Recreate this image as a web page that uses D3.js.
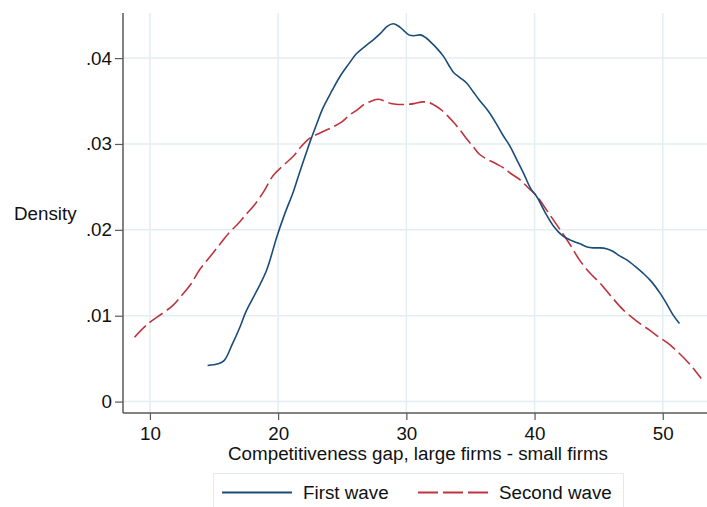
<!DOCTYPE html>
<html>
<head>
<meta charset="utf-8">
<script src="https://cdn.jsdelivr.net/npm/d3@7"></script>
<style>
  html, body { margin: 0; padding: 0; background: #fff; }
  svg { display: block; font-family: "Liberation Sans", Arial, sans-serif; }
</style>
</head>
<body>
<svg id="chart" width="707" height="507"></svg>
<script>
// ---- data ----
const firstX = [14.5, 15.3, 15.8, 16.4, 17.0, 17.5, 18.3, 19.1, 19.9, 20.5, 21.2, 21.7, 22.2, 22.5, 23.0, 23.5, 24.2, 24.8, 25.5, 26.1, 26.8, 27.4, 28.0, 28.5, 29.0, 29.5, 29.8, 30.2, 30.6, 31.1, 31.5, 31.8, 32.4, 32.9, 33.3, 33.7, 34.2, 34.7, 35.2, 35.7, 36.4, 37.0, 37.5, 38.1, 38.6, 39.2, 39.7, 40.2, 40.8, 41.5, 42.2, 42.8, 43.5, 44.1, 44.6, 45.1, 45.6, 46.1, 46.6, 47.2, 47.8, 48.5, 49.1, 49.8, 50.3, 50.8, 51.3];
const firstY = [0.0042, 0.0044, 0.0048, 0.0066, 0.0086, 0.0105, 0.0128, 0.0153, 0.0192, 0.0218, 0.0245, 0.0268, 0.0290, 0.0303, 0.0323, 0.0342, 0.0362, 0.0378, 0.0393, 0.0405, 0.0414, 0.0421, 0.0429, 0.0437, 0.0440, 0.0436, 0.0432, 0.0427, 0.0426, 0.0427, 0.0424, 0.0420, 0.0411, 0.0402, 0.0392, 0.0383, 0.0377, 0.0371, 0.0361, 0.0351, 0.0338, 0.0324, 0.0311, 0.0297, 0.0282, 0.0264, 0.0248, 0.0238, 0.0221, 0.0204, 0.0193, 0.0188, 0.0184, 0.0180, 0.0179, 0.0179, 0.0178, 0.0175, 0.0170, 0.0165, 0.0158, 0.0149, 0.0140, 0.0126, 0.0114, 0.0101, 0.0091];

const secondX = [8.8, 9.8, 11.0, 11.8, 12.5, 13.2, 13.9, 14.7, 15.5, 16.2, 16.8, 17.5, 18.1, 18.9, 19.6, 20.4, 21.2, 21.8, 22.5, 23.3, 24.3, 25.0, 25.6, 26.2, 26.7, 27.3, 27.8, 28.3, 28.8, 29.4, 30.0, 30.6, 31.3, 31.8, 32.2, 32.7, 33.2, 33.7, 34.2, 34.7, 35.2, 35.7, 36.2, 37.0, 37.6, 38.2, 38.9, 39.5, 40.2, 40.8, 41.4, 42.0, 42.8, 43.5, 44.3, 45.1, 46.0, 46.9, 47.6, 48.2, 49.0, 49.7, 50.4, 51.3, 52.2, 53.0];
const secondY = [0.0075, 0.0090, 0.0103, 0.0112, 0.0124, 0.0137, 0.0154, 0.0169, 0.0184, 0.0197, 0.0206, 0.0218, 0.0228, 0.0245, 0.0263, 0.0275, 0.0286, 0.0297, 0.0307, 0.0313, 0.0320, 0.0326, 0.0334, 0.0340, 0.0346, 0.0350, 0.0352, 0.0350, 0.0347, 0.0346, 0.0346, 0.0347, 0.0349, 0.0348, 0.0345, 0.0340, 0.0333, 0.0325, 0.0316, 0.0306, 0.0297, 0.0288, 0.0283, 0.0277, 0.0272, 0.0265, 0.0258, 0.0249, 0.0239, 0.0226, 0.0213, 0.0200, 0.0182, 0.0165, 0.0150, 0.0138, 0.0122, 0.0107, 0.0098, 0.0091, 0.0083, 0.0075, 0.0068, 0.0056, 0.0042, 0.0027];

const xTicks = [10, 20, 30, 40, 50];
const yTicks = [0, 0.01, 0.02, 0.03, 0.04];
const seriesNames = ["First wave", "Second wave"];
const xTitle = "Competitiveness gap, large firms - small firms";
const yTitle = "Density";

// ---- layout ----
const svg = d3.select("#chart");
const pL = 123, pR = 707, pT = 13, pB = 413;
const fs = "18.8px";

const x = d3.scaleLinear().domain([7.9, 53.45]).range([pL, pR]);
const y = d3.scaleLinear().domain([-0.00133, 0.04525]).range([pB, pT]);

const gridColor = "#e3eef3";
const axisColor = "#595959";
const blue = "#1a4c77";
const red = "#bf333d";

// gridlines
svg.append("g").selectAll("line").data(yTicks).join("line")
  .attr("x1", pL).attr("x2", pR)
  .attr("y1", d => y(d)).attr("y2", d => y(d))
  .attr("stroke", gridColor).attr("stroke-width", 1.5);
svg.append("g").selectAll("line").data(xTicks).join("line")
  .attr("x1", d => x(d)).attr("x2", d => x(d))
  .attr("y1", pT).attr("y2", pB)
  .attr("stroke", gridColor).attr("stroke-width", 1.5);

// axes
const fmtY = d => d === 0 ? "0" : d3.format(".2f")(d).replace(/^0/, "");
const yAxis = d3.axisLeft(y).tickValues(yTicks).tickFormat(fmtY).tickSize(8).tickPadding(3).tickSizeOuter(0);
const xAxis = d3.axisBottom(x).tickValues(xTicks).tickSize(7).tickPadding(7).tickSizeOuter(0);

const gy = svg.append("g").attr("transform", `translate(${pL},0)`).call(yAxis);
const gx = svg.append("g").attr("transform", `translate(0,${pB})`).call(xAxis);
[gx, gy].forEach(g => {
  g.select(".domain").attr("stroke", axisColor).attr("stroke-width", 1.5);
  g.selectAll(".tick line").attr("stroke", axisColor).attr("stroke-width", 1.2);
  g.selectAll(".tick text").attr("fill", "#111").style("font-size", fs)
    .style("font-family", "'Liberation Sans', Arial, sans-serif");
});
gy.select(".domain").attr("d", `M0,${pT}V${pB}`);
gx.select(".domain").attr("d", `M${pL},0H${pR}`);

// titles
svg.append("text").attr("x", 14).attr("y", 213).attr("dy", "0.35em")
  .attr("fill", "#111").style("font-size", fs).text(yTitle);
svg.append("text").attr("x", 418).attr("y", 460).attr("text-anchor", "middle")
  .attr("fill", "#111").style("font-size", fs).text(xTitle);

// lines
const line = d3.line().curve(d3.curveCatmullRom.alpha(0.5)).x(d => x(d[0])).y(d => y(d[1]));
const s1 = firstX.map((v, i) => [v, firstY[i]]);
const s2 = secondX.map((v, i) => [v, secondY[i]]);

svg.append("path").datum(s2).attr("d", line).attr("fill", "none")
  .attr("stroke", red).attr("stroke-width", 1.6).attr("stroke-dasharray", "16,5");
svg.append("path").datum(s1).attr("d", line).attr("fill", "none")
  .attr("stroke", blue).attr("stroke-width", 1.6);

// legend
const lg = svg.append("g");
lg.append("rect").attr("x", 213.5).attr("y", 473.5).attr("width", 410).attr("height", 45)
  .attr("fill", "#fff").attr("stroke", "#e3e9ec").attr("stroke-width", 1);
const legendItems = [
  { name: seriesNames[0], color: blue, dash: null, x0: 222, x1: 292, tx: 303 },
  { name: seriesNames[1], color: red, dash: "20,5", x0: 418, x1: 488, tx: 499 }
];
legendItems.forEach(it => {
  lg.append("line").attr("x1", it.x0).attr("x2", it.x1).attr("y1", 492.5).attr("y2", 492.5)
    .attr("stroke", it.color).attr("stroke-width", 1.8)
    .attr("stroke-dasharray", it.dash);
  lg.append("text").attr("x", it.tx).attr("y", 499).attr("fill", "#111")
    .style("font-size", fs).text(it.name);
});
</script>
</body>
</html>
